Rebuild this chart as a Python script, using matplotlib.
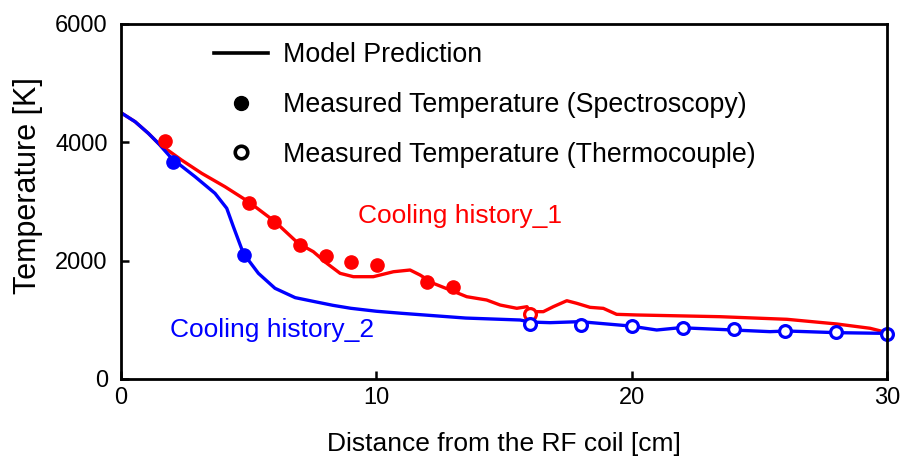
import matplotlib
matplotlib.use("Agg")
import matplotlib.pyplot as plt
from matplotlib.lines import Line2D
from matplotlib.legend_handler import HandlerLine2D

plt.rcParams['font.family'] = ['Liberation Sans', 'DejaVu Sans']

# Model prediction curves
red_x = [0, 0.55, 1.07, 1.46, 2.37, 3.16, 4.07, 4.99, 6.03, 6.94, 7.53, 8.06, 8.58, 9.1, 9.88, 10.67, 11.32, 11.71,
         12.23, 12.89, 13.54, 14.32, 14.85, 15.5, 15.9, 16.02, 16.54, 16.93, 17.46, 17.85, 18.37, 18.89, 19.41, 20.2,
         23.46, 26.08, 28.03, 29.34, 29.86, 30]
red_y = [4500, 4349, 4152, 3983, 3701, 3476, 3250, 2997, 2659, 2293, 2152, 1955, 1786, 1729, 1729, 1813, 1842, 1758,
         1617, 1504, 1391, 1335, 1250, 1195, 1222, 1138, 1138, 1222, 1323, 1279, 1211, 1194, 1093, 1082,
         1053, 1009, 930, 857, 800, 780]

blue_x = [0, 0.55, 1.07, 1.46, 1.98, 2.9, 3.68, 4.14, 4.4, 4.79, 5.38, 6.03, 6.82, 7.6, 8.3, 9.0, 10.0, 11.0, 13.5,
          15.63, 16.02, 16.8, 17.98, 19.94, 20.98, 21.9, 23.98, 25.42, 26.08, 28.03, 29.85, 30]
blue_y = [4500, 4349, 4152, 3983, 3730, 3419, 3138, 2885, 2574, 2124, 1786, 1533, 1375, 1306, 1245, 1195, 1145, 1110, 1030,
          997, 963, 952, 969, 896, 828, 867, 828, 800, 811, 783, 772, 770]

# Spectroscopy (filled)
red_spec_x = [1.72, 5.03, 6.0, 7.01, 8.03, 9.02, 10.01, 12.0, 13.0]
red_spec_y = [4027, 2969, 2659, 2265, 2079, 1983, 1927, 1645, 1561]
blue_spec_x = [2.02, 4.82]
blue_spec_y = [3673, 2096]

# Thermocouple (open)
red_tc_x = [16.0]
red_tc_y = [1098]
blue_tc_x = [16.0, 18.0, 20.0, 22.0, 24.0, 26.0, 28.0, 30.0]
blue_tc_y = [930, 913, 896, 867, 840, 816, 794, 760]

xticks = [0, 10, 20, 30]
yticks = [0, 2000, 4000, 6000]


class OffsetMarkerHandler(HandlerLine2D):
    def get_xdata(self, legend, xdescent, ydescent, width, height, fontsize):
        xdata, _ = super().get_xdata(legend, xdescent, ydescent, width, height, fontsize)
        return xdata, [-xdescent + 0.78 * width]


fig = plt.figure(figsize=(9.06, 4.58), dpi=100)
ax = fig.add_axes([0.1336, 0.1725, 0.979 - 0.1336, 0.9476 - 0.1725])

lw = 2.4
ax.plot(red_x, red_y, color='#ff0000', lw=lw, zorder=2)
ax.plot(blue_x, blue_y, color='#0000ff', lw=lw, zorder=2)
ax.plot(red_spec_x, red_spec_y, 'o', color='#ff0000', ms=9.5, zorder=3, clip_on=False)
ax.plot(blue_spec_x, blue_spec_y, 'o', color='#0000ff', ms=9.5, zorder=3, clip_on=False)
ax.plot(red_tc_x, red_tc_y, 'o', mfc='white', mec='#ff0000', mew=2.3, ms=8.5, zorder=3, clip_on=False)
ax.plot(blue_tc_x, blue_tc_y, 'o', mfc='white', mec='#0000ff', mew=2.3, ms=8.5, zorder=3, clip_on=False)

ax.set_xlim(0, 30)
ax.set_ylim(0, 6000)
ax.set_xticks(xticks)
ax.set_yticks(yticks)
ax.tick_params(direction='in', length=6, width=1.8, labelsize=17)
ax.tick_params(axis='x', pad=6)
ax.tick_params(axis='y', pad=9.5)
for s in ax.spines.values():
    s.set_linewidth(2.0)
    s.set_zorder(4)

ax.set_xlabel('Distance from the RF coil [cm]', fontsize=19, labelpad=16)
ax.set_ylabel('Temperature [K]', fontsize=22)
ax.yaxis.set_label_coords(-0.1016, 0.546)

ax.text(0.309, 0.459, 'Cooling history_1', color='#ff0000', fontsize=19, transform=ax.transAxes, va='center')
ax.text(0.064, 0.137, 'Cooling history_2', color='#0000ff', fontsize=19, transform=ax.transAxes, va='center')

handles = [
    Line2D([], [], color='black', lw=2.6),
    Line2D([], [], ls='none', marker='o', color='black', ms=10),
    Line2D([], [], ls='none', marker='o', mfc='white', mec='black', mew=2.6, ms=9),
]
labels = ['Model Prediction', 'Measured Temperature (Spectroscopy)', 'Measured Temperature (Thermocouple)']
leg = ax.legend(handles, labels, loc='upper left', bbox_to_anchor=(0.1214, 0.948), frameon=False,
                fontsize=19.3, handlelength=2.0, handletextpad=0.58, labelspacing=0.88, borderpad=0,
                borderaxespad=0,
                handler_map={handles[1]: OffsetMarkerHandler(), handles[2]: OffsetMarkerHandler()})

fig.savefig('out.png', dpi=100)
